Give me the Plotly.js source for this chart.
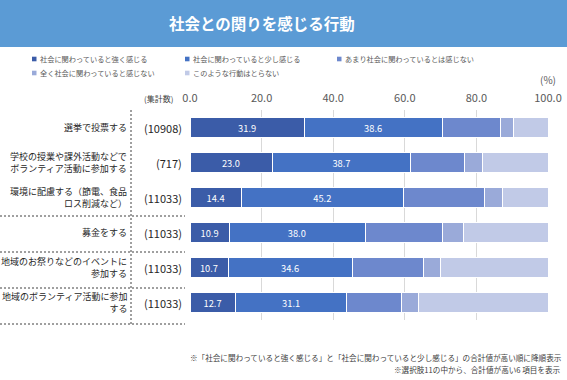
<!DOCTYPE html>
<html>
<head>
<meta charset="utf-8">
<script src="https://cdn.plot.ly/plotly-3.0.1.min.js"></script>
<style>html,body{margin:0;padding:0;background:#fff;}#chart{width:567px;height:380px;}</style>
</head>
<body>
<div id="chart"></div>
<script>
const categories = [
  "選挙で投票する",
  "学校の授業や課外活動などで<br>ボランティア活動に参加する",
  "環境に配慮する（節電、食品<br>ロス削減など）",
  "募金をする",
  "地域のお祭りなどのイベントに<br>参加する",
  "地域のボランティア活動に参加<br>する"
];
const counts = ["(10908)", "(717)", "(11033)", "(11033)", "(11033)", "(11033)"];
const seriesNames = [
  "社会に関わっていると強く感じる",
  "社会に関わっていると少し感じる",
  "あまり社会に関わっているとは感じない",
  "全く社会に関わっていると感じない",
  "このような行動はとらない"
];
const strongly = [31.9, 23.0, 14.4, 10.9, 10.7, 12.7];
const somewhat = [38.6, 38.7, 45.2, 38.0, 34.6, 31.1];
const notMuch  = [16.1, 15.1, 22.8, 21.5, 19.8, 15.4];
const notAtAll = [3.7, 4.8, 4.8, 5.9, 4.8, 4.5];
const noAction = [9.7, 18.4, 12.8, 23.7, 30.1, 36.3];
const xTicks = [0, 20, 40, 60, 80, 100];

const seriesValues = [strongly, somewhat, notMuch, notAtAll, noAction];
const colors = ["#3b5ca8", "#4472c4", "#6d88cd", "#9aaad9", "#c1cae7"];
const showText = [true, true, false, false, false];
const FONT = '"Noto Sans CJK JP", "Noto Sans", sans-serif';

// layout geometry in pixels
const W = 567, H = 380, L = 190, R = 19, T = 110, B = 60;
const pw = W - L - R, ph = H - T - B;
const px = x => (x - L) / pw;
const py = y => (H - B - y) / ph;

const traces = seriesValues.map((vals, i) => ({
  type: 'bar',
  orientation: 'h',
  name: seriesNames[i],
  y: categories,
  x: vals,
  marker: {color: colors[i], line: {color: '#ffffff', width: 1}},
  text: showText[i] ? vals.map(v => v.toFixed(1)) : null,
  textposition: showText[i] ? 'inside' : 'none',
  insidetextanchor: 'middle',
  textfont: {color: '#ffffff', size: 10, family: FONT},
  hoverinfo: 'x+name',
  showlegend: false
}));

const shapes = [];
const annotations = [];

// title banner
shapes.push({type: 'rect', xref: 'paper', yref: 'paper', x0: px(0), x1: px(W), y0: py(0), y1: py(47),
  fillcolor: '#5b9bd5', line: {width: 0}, layer: 'below'});
annotations.push({xref: 'paper', yref: 'paper', x: px(262), y: py(23), text: '<b>社会との関りを感じる行動</b>',
  showarrow: false, xanchor: 'center', yanchor: 'middle', font: {size: 15.5, color: '#ffffff', family: FONT}});

// legend
const legPos = [[32, 59], [185, 59], [337, 59], [32, 73], [185, 73]];
seriesNames.forEach((n, i) => {
  const [lx, ly] = legPos[i];
  shapes.push({type: 'rect', xref: 'paper', yref: 'paper', x0: px(lx), x1: px(lx + 4.5), y0: py(ly - 2.3), y1: py(ly + 2.3),
    fillcolor: colors[i], line: {width: 0}});
  annotations.push({xref: 'paper', yref: 'paper', x: px(lx + 6), y: py(ly), text: n, showarrow: false,
    xanchor: 'left', yanchor: 'middle', font: {size: 7.2, color: '#595959', family: FONT}});
});

// (%) and (集計数)
annotations.push({xref: 'paper', yref: 'paper', x: px(548), y: py(79), text: '(%)', showarrow: false,
  xanchor: 'center', yanchor: 'middle', font: {size: 10, color: '#595959', family: FONT}});
annotations.push({xref: 'paper', yref: 'paper', x: px(158), y: py(98), text: '(集計数)', showarrow: false,
  xanchor: 'center', yanchor: 'middle', font: {size: 8, color: '#404040', family: FONT}});

// category labels and counts
categories.forEach((c, i) => {
  annotations.push({xref: 'paper', yref: 'y', x: px(129), y: c, text: c, showarrow: false,
    xanchor: 'right', yanchor: 'middle', align: 'right', font: {size: 9, color: '#262626', family: FONT}});
  annotations.push({xref: 'paper', yref: 'y', x: px(184), y: c, text: counts[i], showarrow: false,
    xanchor: 'right', yanchor: 'middle', font: {size: 11, color: '#262626', family: FONT}});
});

// dashed separators
const dashStyle = {color: '#404040', width: 1, dash: '2px,2px'};
[216, 252, 288, 324].forEach(yy => {
  shapes.push({type: 'line', xref: 'paper', yref: 'paper', x0: px(0), x1: px(185), y0: py(yy), y1: py(yy), line: dashStyle});
});
shapes.push({type: 'line', xref: 'paper', yref: 'paper', x0: px(131), x1: px(131), y0: py(110), y1: py(324), line: dashStyle});

// footnotes
annotations.push({xref: 'paper', yref: 'paper', x: px(564), y: py(357), showarrow: false, xanchor: 'right', yanchor: 'middle',
  text: '※「社会に関わっていると強く感じる」と「社会に関わっていると少し感じる」の合計値が高い順に降順表示',
  font: {size: 7.6, color: '#404040', family: FONT}});
annotations.push({xref: 'paper', yref: 'paper', x: px(563), y: py(369), showarrow: false, xanchor: 'right', yanchor: 'middle',
  text: '※選択肢11の中から、合計値が高い6 項目を表示',
  font: {size: 7.6, color: '#404040', family: FONT}});

const layout = {
  width: W, height: H,
  margin: {l: L, r: R, t: T, b: B, pad: 0},
  paper_bgcolor: '#ffffff', plot_bgcolor: '#ffffff',
  barmode: 'stack',
  bargap: 0.43,
  showlegend: false,
  font: {family: FONT},
  xaxis: {
    range: [0, 100], side: 'top', tickvals: xTicks, ticktext: xTicks.map(v => v.toFixed(1)),
    showgrid: true, gridcolor: '#d9d9d9', gridwidth: 1, zeroline: false, showline: false, ticks: '',
    ticklabelstandoff: 5,
    tickfont: {size: 11, color: '#595959', family: FONT}, fixedrange: true
  },
  yaxis: {
    autorange: 'reversed', showticklabels: false, showgrid: false, zeroline: false, showline: false, ticks: '',
    fixedrange: true
  },
  shapes: shapes,
  annotations: annotations
};

Plotly.newPlot('chart', traces, layout, {displayModeBar: false, staticPlot: true});
</script>
</body>
</html>
